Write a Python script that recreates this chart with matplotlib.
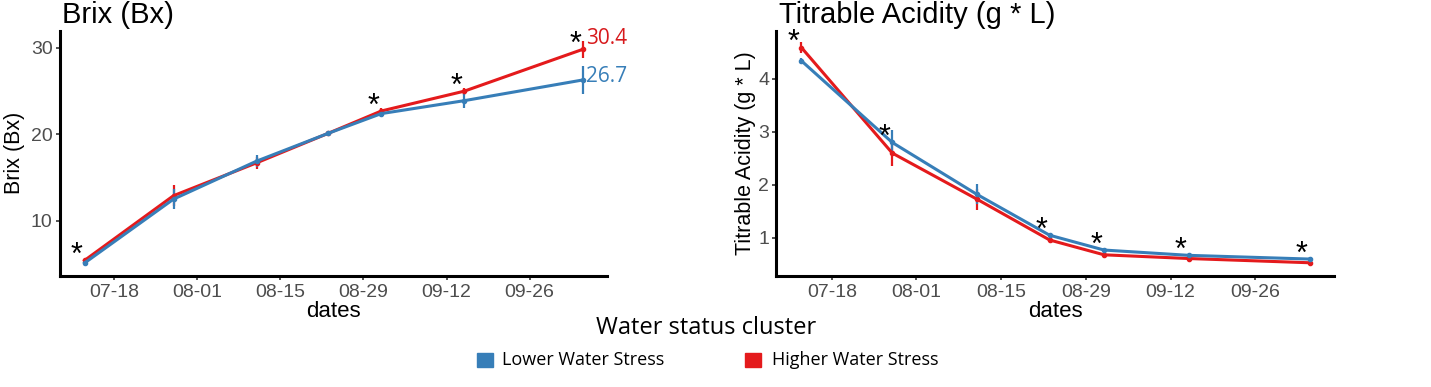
import pandas as pd
import matplotlib
matplotlib.use('Agg')
import matplotlib.pyplot as plt
from matplotlib.patches import Rectangle

plt.rcParams['font.family'] = ['Liberation Sans', 'DejaVu Sans']
FONTE_LEGENDA = ['Open Sans', 'DejaVu Sans']

AZUL = '#377EB8'
VERMELHO = '#E41A1C'

datas = pd.to_datetime(['2021-07-13', '2021-07-28', '2021-08-11', '2021-08-23',
                        '2021-09-01', '2021-09-15', '2021-10-05'])
marcas = pd.to_datetime(['2021-07-18', '2021-08-01', '2021-08-15', '2021-08-29',
                         '2021-09-12', '2021-09-26'])
rotulos_marcas = ['07-18', '08-01', '08-15', '08-29', '09-12', '09-26']

grupos = ['Lower Water Stress', 'Higher Water Stress']
cores = [AZUL, VERMELHO]

brix_baixo = [5.1, 12.5, 16.9, 20.1, 22.4, 23.9, 26.3]
brix_baixo_err = [0.3, 1.2, 0.7, 0.3, 0.4, 0.8, 1.6]
brix_alto = [5.4, 12.9, 16.7, 20.1, 22.7, 25.0, 29.85]
brix_alto_err = [0.3, 1.2, 0.7, 0.3, 0.4, 0.4, 1.0]
brix_sig = [True, False, False, False, True, True, True]
brix_fim = ['26.7', '30.4']

acidez_baixo = [4.34, 2.80, 1.82, 1.05, 0.77, 0.67, 0.60]
acidez_baixo_err = [0.05, 0.23, 0.19, 0.05, 0.04, 0.03, 0.03]
acidez_alto = [4.59, 2.60, 1.73, 0.96, 0.68, 0.61, 0.53]
acidez_alto_err = [0.11, 0.25, 0.20, 0.04, 0.05, 0.03, 0.02]
acidez_sig = [True, True, False, True, True, True, True]


def grafico(ax, baixo, baixo_err, alto, alto_err, sig, ylim, yticks, desloc):
    ax.errorbar(datas, alto, yerr=alto_err, color=VERMELHO, lw=2.2,
                elinewidth=1.6, capsize=0, marker='o', ms=3)
    ax.errorbar(datas, baixo, yerr=baixo_err, color=AZUL, lw=2.2,
                elinewidth=1.6, capsize=0, marker='o', ms=3)

    # asteriscos de significancia
    for d, b, a, s in zip(datas, baixo, alto, sig):
        if s:
            ax.annotate('*', (d - pd.Timedelta(days=1.3), max(a, b) + desloc),
                        xytext=(0, -6), textcoords='offset points',
                        ha='center', va='center', fontsize=22,
                        annotation_clip=False)

    ax.set_xlim(pd.Timestamp('2021-07-08 19:00'), pd.Timestamp('2021-10-09 00:00'))
    ax.set_ylim(*ylim)
    ax.set_yticks(yticks)
    ax.set_xticks(marcas)
    ax.set_xticklabels(rotulos_marcas)

    for lado in ['top', 'right']:
        ax.spines[lado].set_visible(False)
    for lado in ['left', 'bottom']:
        ax.spines[lado].set_linewidth(2.2)
        ax.spines[lado].set_color('black')
    ax.tick_params(length=3, width=1.2, color='#333333', labelcolor='#4D4D4D',
                   labelsize=14)
    ax.tick_params(axis='y', pad=2)
    ax.tick_params(axis='x', pad=3)
    ax.set_xlabel('dates', fontsize=16, labelpad=0)


fig = plt.figure(figsize=(14.31, 3.87), dpi=100)
ax1 = fig.add_axes([0.0416, 0.2868, 0.3824, 0.6339])
ax2 = fig.add_axes([0.5423, 0.2868, 0.3899, 0.6339])

grafico(ax1, brix_baixo, brix_baixo_err, brix_alto, brix_alto_err, brix_sig,
        (3.6, 32.0), [10, 20, 30], 1.45)
grafico(ax2, acidez_baixo, acidez_baixo_err, acidez_alto, acidez_alto_err,
        acidez_sig, (0.28, 4.91), [1, 2, 3, 4], 0.24)

ax1.set_ylabel('Brix (Bx)', fontsize=15.5)
ax1.yaxis.set_label_coords(-0.064, 0.5)
ax2.set_ylabel('Titrable Acidity (g * L)', fontsize=15.5)
ax2.yaxis.set_label_coords(-0.036, 0.5)

# valores finais
ax1.annotate(brix_fim[1], (datas[-1], brix_alto[-1]), xytext=(2, 8),
             textcoords='offset points', color='#D7191C', fontsize=15,
             va='center', ha='left', family=FONTE_LEGENDA,
             annotation_clip=False)
ax1.annotate(brix_fim[0], (datas[-1], brix_baixo[-1]), xytext=(2, 2.5),
             textcoords='offset points', color=AZUL, fontsize=15,
             va='center', ha='left', family=FONTE_LEGENDA,
             annotation_clip=False)

fig.text(0.0431, 0.941, 'Brix (Bx)', fontsize=21, ha='left', va='baseline')
fig.text(0.5447, 0.940, 'Titrable Acidity (g * L)', fontsize=21, ha='left',
         va='baseline')

# legenda
fig.text(0.4932, 0.1517, 'Water status cluster', fontsize=17, ha='center',
         va='center', family=FONTE_LEGENDA)
pos_caixa = [0.3333, 0.5206]
pos_texto = [0.3508, 0.5395]
for grupo, cor, xc, xt in zip(grupos, cores, pos_caixa, pos_texto):
    fig.add_artist(Rectangle((xc, 0.0517), 0.0112, 0.0362, color=cor,
                             transform=fig.transFigure))
    fig.text(xt, 0.0698, grupo, fontsize=13, ha='left', va='center',
             family=FONTE_LEGENDA)

fig.savefig('out.png', dpi=100)
